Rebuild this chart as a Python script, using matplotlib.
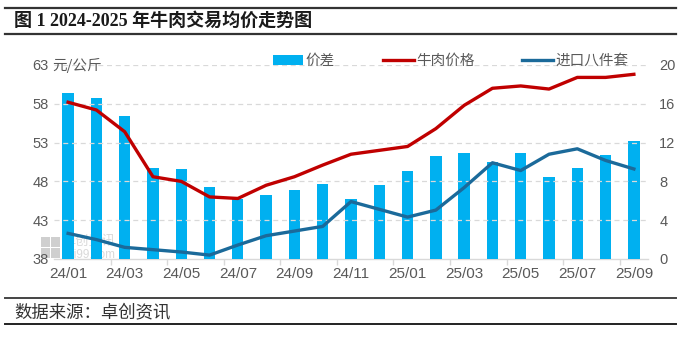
import matplotlib

matplotlib.use("Agg")
import matplotlib.pyplot as plt
from matplotlib.lines import Line2D
from matplotlib.patches import Patch, Rectangle

MONTHS = [
    "24/01", "24/02", "24/03", "24/04", "24/05", "24/06", "24/07",
    "24/08", "24/09", "24/10", "24/11", "24/12", "25/01", "25/02",
    "25/03", "25/04", "25/05", "25/06", "25/07", "25/08", "25/09",
]
# 牛肉价格 (元/公斤, left axis)
BEEF_PRICE = [
    58.2, 57.2, 54.4, 48.6, 48.0, 46.0, 45.8, 47.5, 48.6, 50.1, 51.5,
    52.0, 52.5, 54.8, 57.8, 60.0, 60.3, 59.9, 61.4, 61.4, 61.8,
]
# 进口八件套 (元/公斤, left axis)
IMPORT_PRICE = [
    41.3, 40.5, 39.5, 39.2, 38.9, 38.5, 39.8, 41.0, 41.6, 42.2, 45.4,
    44.4, 43.4, 44.3, 47.2, 50.4, 49.4, 51.5, 52.2, 50.7, 49.6,
]
# 价差 (right axis)
SPREAD = [
    17.1, 16.6, 14.7, 9.4, 9.3, 7.4, 6.2, 6.6, 7.1, 7.7, 6.2,
    7.6, 9.1, 10.6, 10.9, 10.0, 10.9, 8.5, 9.4, 10.7, 12.2,
]
LEFT_TICKS = [38, 43, 48, 53, 58, 63]
RIGHT_TICKS = [0, 4, 8, 12, 16, 20]

BAR_COLOR = "#00B0F0"
RED_COLOR = "#C00000"
BLUE_COLOR = "#1B6A9A"
GRID_COLOR = "#D9D9D9"
TICK_TEXT = "#595959"
CJK = ["Noto Sans CJK SC", "DejaVu Sans"]

plt.rcParams["font.family"] = ["Liberation Sans", "Noto Sans CJK SC"]

fig = plt.figure(figsize=(6.91, 3.41), dpi=100, facecolor="white")
ax_bar = fig.add_axes([0.0781, 0.2405, 0.8597, 0.5689])
ax_line = ax_bar.twinx()

# bars on the right scale, lines on the left scale drawn above them
ax_bar.set_zorder(1)
ax_line.set_zorder(2)
ax_line.patch.set_visible(False)
ax_bar.patch.set_visible(False)

x = list(range(len(MONTHS)))
ax_bar.bar(x, SPREAD, width=0.4, color=BAR_COLOR, zorder=3)
ax_line.plot(x, BEEF_PRICE, color=RED_COLOR, lw=2.4, solid_joinstyle="round", zorder=4)
ax_line.plot(x, IMPORT_PRICE, color=BLUE_COLOR, lw=2.4, solid_joinstyle="round", zorder=4)

ax_bar.set_xlim(-0.5, len(MONTHS) - 0.5)
ax_bar.set_ylim(RIGHT_TICKS[0], RIGHT_TICKS[-1])
ax_line.set_ylim(LEFT_TICKS[0], LEFT_TICKS[-1])

# the bar axes carries the right scale, the line axes the left one
ax_bar.yaxis.tick_right()
ax_line.yaxis.tick_left()
ax_bar.set_yticks(RIGHT_TICKS)
ax_line.set_yticks(LEFT_TICKS)
for axis in (ax_bar, ax_line):
    axis.tick_params(axis="y", length=0, labelsize=10.5, labelcolor=TICK_TEXT)
    for side in ("top", "left", "right", "bottom"):
        axis.spines[side].set_visible(False)
ax_bar.tick_params(axis="y", pad=8)
ax_line.tick_params(axis="y", pad=4)

ax_bar.spines["bottom"].set_visible(True)
ax_bar.spines["bottom"].set_color(GRID_COLOR)
ax_bar.spines["bottom"].set_linewidth(1.0)

ax_bar.set_xticks(x[::2])
ax_bar.set_xticklabels(MONTHS[::2])
ax_bar.set_xticks([i + 1.5 for i in x[::2][:-1]], minor=True)
ax_bar.tick_params(axis="x", which="major", length=0, pad=6, labelsize=11, labelcolor=TICK_TEXT)
ax_bar.tick_params(axis="x", which="minor", length=4, width=1, color=GRID_COLOR)

for value in LEFT_TICKS[1:]:
    ax_line.axhline(value, color=GRID_COLOR, lw=0.9, ls=(0, (4, 3)), zorder=1)

# faint watermark in the lower left corner
wm = fig.add_axes([0.058, 0.243, 0.03, 0.065])
wm.set_axis_off()
wm.set_xlim(0, 2)
wm.set_ylim(0, 2)
for i in range(2):
    for j in range(2):
        wm.add_patch(Rectangle((i + 0.05, j + 0.05), 0.9, 0.9,
                               facecolor="#CFCFCF", edgecolor="none"))
wm.set_zorder(0.5)
fig.text(0.09, 0.293, "卓创资讯", fontsize=9.5, color="#D9D9D9", family=CJK,
         va="center", ha="left", zorder=0.5)
fig.text(0.09, 0.252, "sci99.com", fontsize=8.5, color="#D9D9D9",
         va="center", ha="left", zorder=0.5)

fig.text(0.075, 0.8094, "元/公斤", fontsize=10.5, color=TICK_TEXT, family=CJK,
         va="center", ha="left")

handles = [
    Patch(facecolor=BAR_COLOR, edgecolor="none"),
    Line2D([], [], color=RED_COLOR, lw=2.4),
    Line2D([], [], color=BLUE_COLOR, lw=2.4),
]
legend = fig.legend(
    handles, ["价差", "牛肉价格", "进口八件套"], ncol=3,
    loc="center", bbox_to_anchor=(0.652, 0.821), frameon=False,
    prop={"family": CJK, "size": 10.5}, handlelength=2.1,
    handletextpad=0.15, columnspacing=3.3, borderaxespad=0,
)
for text in legend.get_texts():
    text.set_color(TICK_TEXT)

# title block and source block with rules
fig.add_artist(Line2D([0.007, 0.978], [1 - 8 / 341] * 2, color="#333333", lw=1.6))
fig.add_artist(Line2D([0.007, 0.978], [1 - 34 / 341] * 2, color="#333333", lw=1.6))
fig.text(0.02, 1 - 21 / 341, "图 1 2024-2025 年牛肉交易均价走势图", fontsize=13,
         weight="bold", family=["Liberation Serif", "Noto Sans CJK SC"],
         color="#1A1A1A", va="center", ha="left")

fig.add_artist(Line2D([0.007, 0.978], [1 - 298 / 341] * 2, color="#444444", lw=1.4))
fig.add_artist(Line2D([0.007, 0.978], [1 - 324 / 341] * 2, color="#222222", lw=1.4))
fig.text(0.02, 1 - 312 / 341, "数据来源：卓创资讯", fontsize=12.5, family=CJK,
         color="#333333", va="center", ha="left")

fig.savefig("out.png", dpi=100, facecolor="white")
